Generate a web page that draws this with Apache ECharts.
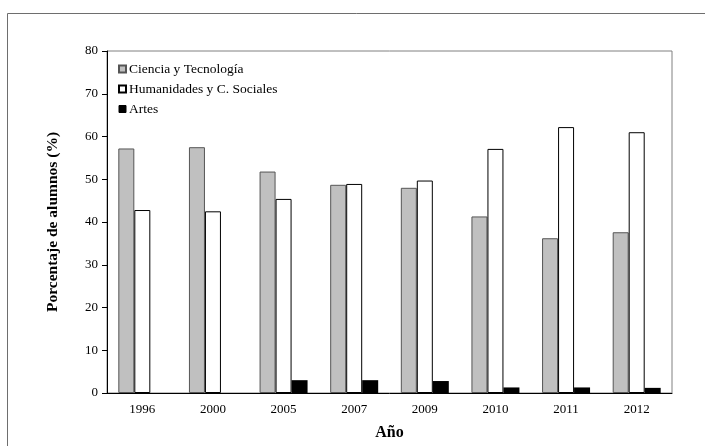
<!DOCTYPE html>
<html>

<head>
    <meta charset="utf-8">
    <title>ECharts</title>
    <script src="https://cdn.jsdelivr.net/npm/echarts@6/dist/echarts.min.js"></script>
    <style>
        html, body { margin: 0; padding: 0; background: #fff; }
    </style>
</head>

<body>
    <div id="main" style="width: 705px;height:446px;"></div>
    <script type="text/javascript">

        // datos
        var years = ['1996', '2000', '2005', '2007', '2009', '2010', '2011', '2012'];
        var ciencia = [57.2, 57.5, 51.8, 48.7, 48.0, 41.3, 36.2, 37.6];
        var humanidades = [42.8, 42.5, 45.4, 48.9, 49.7, 57.1, 62.2, 61.0];
        var artes = [0, 0, 3.0, 3.0, 2.8, 1.3, 1.3, 1.2];

        var serif = '"Liberation Serif", "Times New Roman", serif';

        var myChart = echarts.init(document.getElementById('main'));
        var option = {
            animation: false,
            textStyle: { fontFamily: serif },
            graphic: [{
                type: 'rect',
                shape: { x: 7.5, y: 13.5, width: 720, height: 460 },
                style: { fill: 'none', stroke: '#6e6e6e', lineWidth: 1 }
            }],
            grid: {
                left: 107, right: 33, top: 51, bottom: 52,
                show: true, borderColor: '#808080', borderWidth: 1
            },
            legend: {
                orient: 'vertical',
                left: 113, top: 57,
                itemWidth: 7, itemHeight: 7, itemGap: 6,
                icon: 'rect',
                textStyle: { fontFamily: serif, fontSize: 13.5, color: '#000', lineHeight: 14, padding: [0, 0, 0, -2] },
                data: [
                    'Ciencia y Tecnología',
                    'Humanidades y C. Sociales',
                    { name: 'Artes', itemStyle: { borderColor: '#000', borderWidth: 1 } }
                ]
            },
            xAxis: {
                type: 'category',
                data: years,
                name: 'Año',
                nameLocation: 'middle',
                nameGap: 32,
                nameTextStyle: { fontFamily: serif, fontSize: 16, fontWeight: 'bold', color: '#000' },
                axisLine: { lineStyle: { color: '#000', width: 1 } },
                axisTick: { length: 5, lineStyle: { color: '#000' } },
                axisLabel: { fontFamily: serif, fontSize: 13, color: '#000', margin: 10 }
            },
            yAxis: {
                type: 'value',
                min: 0, max: 80, interval: 10,
                name: 'Porcentaje de alumnos (%)',
                nameLocation: 'middle',
                nameGap: 46,
                nameTextStyle: { fontFamily: serif, fontSize: 15.5, fontWeight: 'bold', color: '#000' },
                axisLine: { show: true, lineStyle: { color: '#000', width: 1 } },
                axisTick: { show: true, length: 5, lineStyle: { color: '#000' } },
                axisLabel: { fontFamily: serif, fontSize: 13, color: '#000', margin: 9 },
                splitLine: { show: false }
            },
            series: [{
                name: 'Ciencia y Tecnología',
                type: 'bar',
                barWidth: 16,
                barGap: '0%',
                data: ciencia,
                itemStyle: { color: '#c0c0c0', borderColor: '#555', borderWidth: 1 }
            }, {
                name: 'Humanidades y C. Sociales',
                type: 'bar',
                barWidth: 16,
                barGap: '0%',
                data: humanidades,
                itemStyle: { color: '#fff', borderColor: '#000', borderWidth: 1 }
            }, {
                name: 'Artes',
                type: 'bar',
                barWidth: 16,
                barGap: '0%',
                data: artes,
                itemStyle: { color: '#000', borderWidth: 0 }
            }]
        };
        myChart.setOption(option);
    </script>
</body>

</html>
